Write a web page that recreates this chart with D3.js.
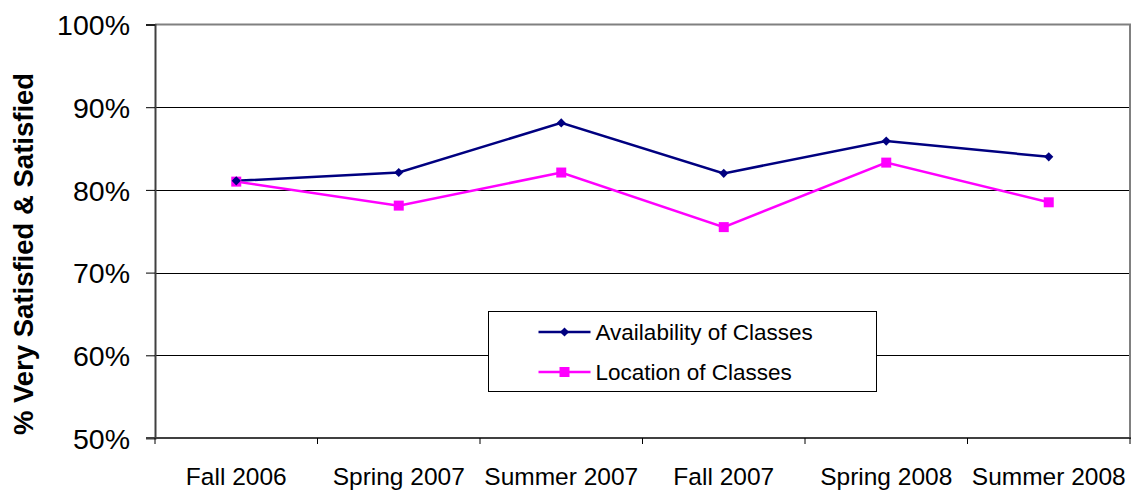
<!DOCTYPE html>
<html>
<head>
<meta charset="utf-8">
<script src="https://d3js.org/d3.v7.min.js"></script>
<style>
  body { margin: 0; background: #fff; }
  text { font-family: Arial, "Liberation Sans", sans-serif; fill: #000; }
</style>
</head>
<body>
<div id="container"></div>
<script>
// chart data
var terms = ['Fall 2006', 'Spring 2007', 'Summer 2007', 'Fall 2007', 'Spring 2008', 'Summer 2008'];
var availability = [0.811, 0.821, 0.881, 0.820, 0.859, 0.840];
var location_ = [0.810, 0.781, 0.821, 0.755, 0.833, 0.785];
var yTicks = [0.5, 0.6, 0.7, 0.8, 0.9, 1.0];
var seriesNames = ['Availability of Classes', 'Location of Classes'];

var w = 1134, h = 497;
var plot = {left: 155, right: 1130, top: 24.5, bottom: 438};

var svg = d3.select('#container')
    .append('svg')
    .attr('width', w)
    .attr('height', h);

var x = d3.scaleBand().domain(terms).range([plot.left, plot.right]).padding(0);
var y = d3.scaleLinear().domain([0.5, 1]).range([plot.bottom, plot.top]);
var cx = function(d) { return x(d) + x.bandwidth() / 2; };

// gridlines
svg.append('g')
   .selectAll('line')
   .data(yTicks.filter(function(d) { return d > 0.5 && d < 1; }))
   .enter()
   .append('line')
   .attr('x1', plot.left)
   .attr('x2', plot.right)
   .attr('y1', function(d) { return Math.round(y(d)) + 0.5; })
   .attr('y2', function(d) { return Math.round(y(d)) + 0.5; })
   .attr('stroke', '#000')
   .attr('stroke-width', 1);

// plot border top / right
svg.append('path')
   .attr('d', 'M' + plot.left + ',' + plot.top + 'H' + plot.right + 'V' + plot.bottom)
   .attr('fill', 'none')
   .attr('stroke', '#808080')
   .attr('stroke-width', 2);

// y axis
var yAxis = d3.axisLeft(y)
    .tickValues(yTicks)
    .tickFormat(d3.format('.0%'))
    .tickSize(9)
    .tickPadding(16);
var gy = svg.append('g')
    .attr('transform', 'translate(' + plot.left + ',0)')
    .call(yAxis);
gy.select('.domain').attr('stroke', '#404040').attr('stroke-width', 2);
gy.selectAll('.tick line').attr('stroke', '#000');
gy.selectAll('.tick text')
  .style('font-size', '28.5px')
  .attr('dy', '0.36em');

// x axis (ticks at category boundaries)
var gx = svg.append('g')
    .attr('transform', 'translate(0,' + plot.bottom + ')');
gx.append('line')
  .attr('x1', plot.left - 9)
  .attr('x2', plot.right + 1)
  .attr('stroke', '#404040')
  .attr('stroke-width', 2);
gx.selectAll('.xt')
  .data(terms.concat(['end']))
  .enter()
  .append('line')
  .attr('x1', function(d, i) { return plot.left + i * x.bandwidth(); })
  .attr('x2', function(d, i) { return plot.left + i * x.bandwidth(); })
  .attr('y1', 0)
  .attr('y2', 6)
  .attr('stroke', '#000');
gx.selectAll('.xl')
  .data(terms)
  .enter()
  .append('text')
  .attr('x', cx)
  .attr('y', 47)
  .attr('text-anchor', 'middle')
  .style('font-size', '24.5px')
  .text(function(d) { return d; });

// y axis title
svg.append('text')
   .attr('transform', 'translate(33,' + 254 + ') rotate(-90)')
   .attr('text-anchor', 'middle')
   .style('font-size', '27.5px')
   .style('font-weight', 'bold')
   .text('% Very Satisfied & Satisfied');

// lines
var line = d3.line()
    .x(function(d, i) { return cx(terms[i]); })
    .y(function(d) { return y(d); });

svg.append('path')
   .datum(availability)
   .attr('d', line)
   .attr('fill', 'none')
   .attr('stroke', '#000080')
   .attr('stroke-width', 2.5);

svg.append('path')
   .datum(location_)
   .attr('d', line)
   .attr('fill', 'none')
   .attr('stroke', '#ff00ff')
   .attr('stroke-width', 2.5);

// diamond = square turned 45 degrees
var diamond = d3.symbol().type(d3.symbolSquare).size(42);
var square = d3.symbol().type(d3.symbolSquare).size(100);

svg.append('g')
   .selectAll('path')
   .data(location_)
   .enter()
   .append('path')
   .attr('d', square)
   .attr('transform', function(d, i) { return 'translate(' + cx(terms[i]) + ',' + y(d) + ')'; })
   .attr('fill', '#ff00ff');

svg.append('g')
   .selectAll('path')
   .data(availability)
   .enter()
   .append('path')
   .attr('d', diamond)
   .attr('transform', function(d, i) { return 'translate(' + cx(terms[i]) + ',' + y(d) + ') rotate(45)'; })
   .attr('fill', '#000080');

// legend
var legend = svg.append('g').attr('transform', 'translate(488.5,311.5)');
legend.append('rect')
      .attr('width', 388)
      .attr('height', 80)
      .attr('fill', '#fff')
      .attr('stroke', '#000')
      .attr('stroke-width', 1);

var colors = ['#000080', '#ff00ff'];
var shapes = [diamond, square];
seriesNames.forEach(function(name, i) {
    var row = legend.append('g').attr('transform', 'translate(0,' + (20.5 + i * 40) + ')');
    row.append('line')
       .attr('x1', 50)
       .attr('x2', 102)
       .attr('stroke', colors[i])
       .attr('stroke-width', 2.5);
    row.append('path')
       .attr('d', shapes[i])
       .attr('transform', 'translate(76,0)' + (i === 0 ? ' rotate(45)' : ''))
       .attr('fill', colors[i]);
    row.append('text')
       .attr('x', 107)
       .attr('dy', '0.36em')
       .style('font-size', '22.5px')
       .text(name);
});
</script>
</body>
</html>
